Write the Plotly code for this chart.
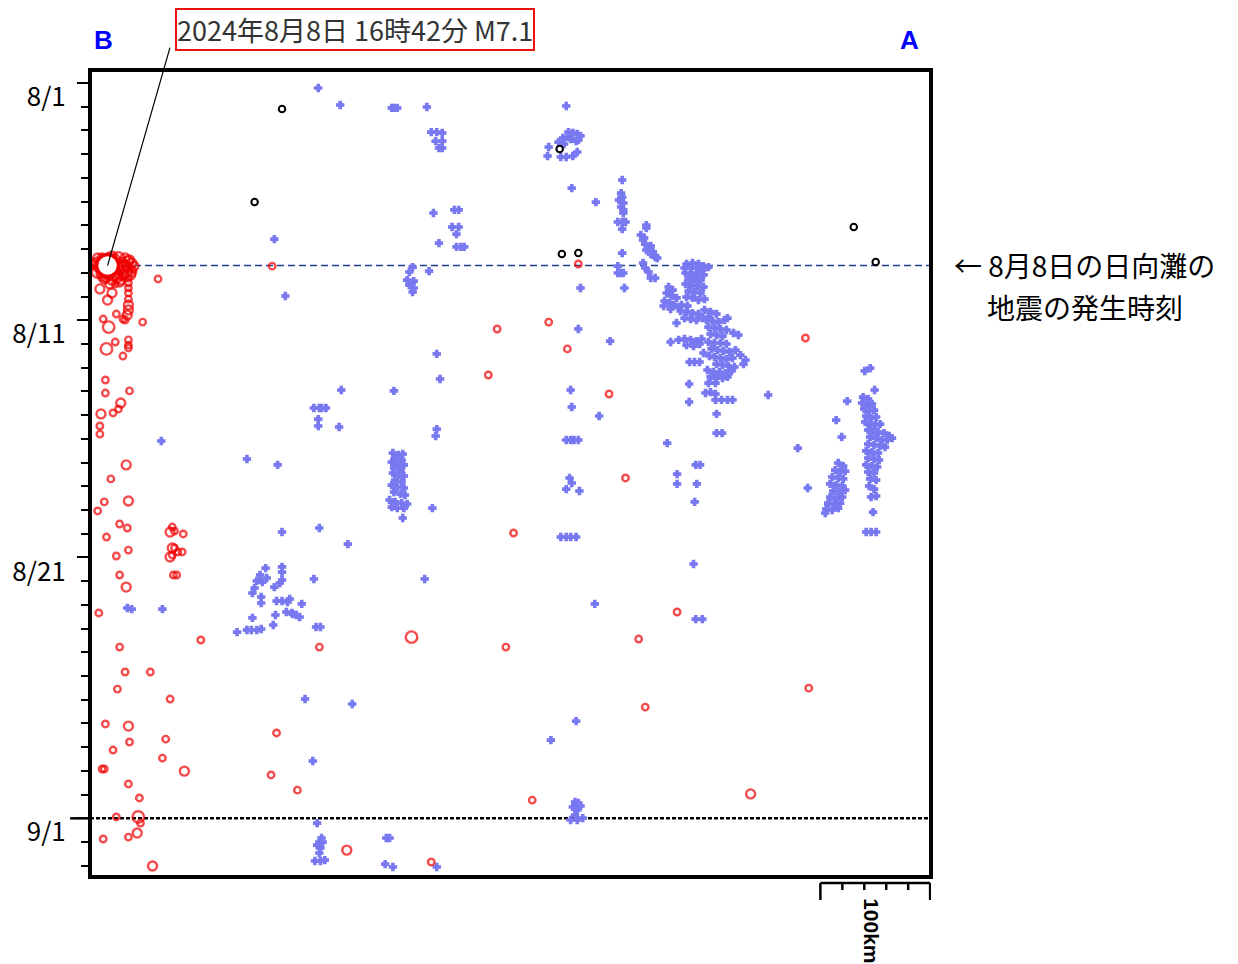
import plotly.graph_objects as go
import pandas as pd

BASE = pd.Timestamp("2024-08-01")

# ---- data: (distance from B [km], days since 2024-08-01 00:00, magnitude) ----
mainshock = dict(km=16, time="2024-08-08 16:42", mag=7.1,
                 label="2024年8月8日 16時42分 M7.1")

red_events = [
    (6, 7.55, 3.0), (9, 7.80, 3.0), (11, 7.38, 3.0), (14, 7.97, 3.5), (18, 8.05, 3.0),
    (22, 7.46, 3.5), (25, 7.72, 3.5), (27, 7.88, 3.0), (29, 7.55, 3.0), (33, 7.67, 3.0),
    (35, 7.80, 3.0), (38, 7.59, 3.0), (31, 8.09, 3.0), (25, 8.22, 3.0), (20, 8.31, 3.0),
    (15, 8.22, 3.0), (35, 8.22, 2.5), (39, 7.88, 2.5), (11, 8.14, 3.0), (23, 8.47, 2.5),
    (29, 8.18, 2.5), (35, 8.43, 2.5), (8, 7.72, 3.5),
    (7, 7.38, 3.0), (12, 7.59, 3.5), (16, 7.38, 3.0), (20, 7.29, 3.0), (26, 7.38, 3.5),
    (32, 7.38, 3.0), (36, 7.46, 3.0), (40, 7.72, 3.0), (7, 7.97, 3.5), (13, 8.26, 3.0),
    (18, 8.47, 3.0), (27, 8.39, 3.0), (33, 7.97, 3.5), (37, 8.09, 3.0), (22, 7.88, 3.5),
    (29, 7.80, 3.5), (4, 7.63, 3.0), (10, 8.01, 3.0), (24, 8.05, 3.5), (31, 7.72, 3.5),
    (38, 7.97, 3.0), (16, 8.05, 3.0), (28, 8.30, 3.0), (34, 7.55, 3.5), (19, 7.55, 3.5),
    (62, 8.26, 2.5), (166, 7.72, 2.5), (9, 8.68, 3.0), (20, 8.85, 3.0), (16, 9.15, 3.0),
    (35, 8.64, 2.5), (35, 8.85, 2.5), (35, 9.11, 2.5), (35, 9.36, 3.0), (35, 9.57, 3.0),
    (34, 9.78, 3.0), (32, 9.99, 2.5), (24, 9.74, 2.5), (12, 9.95, 2.5), (17, 10.29, 3.5),
    (30, 9.95, 2.5), (48, 10.08, 2.5), (35, 10.83, 2.5), (35, 11.05, 2.5), (35, 11.17, 2.5),
    (23, 10.92, 2.5), (15, 11.21, 3.5), (30, 11.51, 2.5), (371, 10.37, 2.5), (363, 12.31, 2.5),
    (14, 12.52, 2.5), (14, 13.07, 2.5), (36, 12.98, 2.5), (28, 13.49, 3.0), (26, 13.74, 2.5),
    (21, 13.91, 2.5), (10, 13.95, 3.0), (9, 14.46, 2.5), (9, 14.80, 2.5), (33, 16.10, 3.0),
    (445, 7.63, 2.5), (418, 10.08, 2.5), (435, 11.21, 2.5), (473, 13.11, 2.5), (652, 10.75, 2.5),
    (19, 16.69, 2.5), (13, 17.66, 2.5), (35, 17.62, 3.0), (7, 18.04, 2.5), (27, 18.59, 2.5),
    (34, 18.76, 2.5), (15, 19.14, 2.5), (24, 19.94, 2.5), (35, 19.69, 2.5), (27, 20.74, 2.5),
    (33, 21.25, 3.0), (8, 22.34, 2.5),
    (75, 18.72, 2.5), (73, 18.93, 3.0), (77, 18.89, 2.5), (85, 19.01, 2.5), (75, 19.60, 3.0),
    (77, 19.60, 2.5), (73, 19.98, 3.0), (75, 19.90, 2.5), (80, 19.77, 2.5), (84, 19.77, 2.5),
    (76, 20.74, 2.5), (79, 20.74, 2.5),
    (101, 23.48, 2.5), (27, 23.78, 2.5), (32, 24.83, 2.5), (55, 24.83, 2.5), (25, 25.55, 2.5),
    (73, 25.97, 2.5), (14, 27.02, 2.5), (35, 27.11, 3.0), (36, 27.78, 2.5), (69, 27.66, 2.5),
    (21, 28.12, 2.5), (66, 28.46, 2.5), (86, 29.01, 3.0), (11, 28.92, 2.5), (13, 28.92, 2.5),
    (35, 29.55, 2.5), (45, 30.14, 2.5), (24, 30.94, 2.5), (44, 30.94, 3.5), (46, 31.20, 2.5),
    (43, 31.62, 3.0), (35, 31.79, 2.5), (12, 31.87, 2.5), (57, 33.01, 3.0),
    (209, 23.78, 2.5), (293, 23.36, 3.5), (379, 23.78, 2.5), (170, 27.40, 2.5), (165, 29.17, 2.5),
    (189, 29.81, 2.5), (234, 32.34, 3.0), (311, 32.84, 2.5), (488, 16.65, 2.5), (386, 18.97, 2.5),
    (535, 22.30, 2.5), (500, 23.44, 2.5), (506, 26.31, 2.5), (655, 25.51, 2.5), (602, 29.97, 3.0),
    (403, 30.23, 2.5),
]

black_events = [
    (175, 1.10), (150, 5.02), (428, 2.78), (430, 7.21), (445, 7.17), (696, 6.07), (716, 7.55),
]

blue_events = [
    (208, 0.21), (228, 0.93), (275, 1.05), (277, 1.05), (280, 1.05), (307, 1.01),
    (311, 2.07), (316, 2.07), (321, 2.11), (315, 2.45), (321, 2.45), (318, 2.74), (321, 2.74),
    (313, 5.48), (332, 5.35), (336, 5.35), (330, 6.07), (336, 6.07), (334, 6.37), (318, 6.75),
    (334, 6.91), (338, 6.91), (341, 6.91), (168, 6.58), (294, 7.76), (291, 7.97), (309, 7.93),
    (289, 8.31), (293, 8.43), (295, 8.35), (291, 8.52), (295, 8.64), (294, 8.81), (178, 8.98),
    (316, 11.42), (319, 12.48), (229, 12.94), (277, 12.98),
    (204, 13.70), (209, 13.70), (211, 13.70), (215, 13.70), (208, 14.17), (208, 14.46),
    (227, 14.50), (316, 14.59), (315, 14.88), (65, 15.09), (143, 15.85), (171, 16.10),
    (276, 15.60), (281, 15.68), (285, 15.64), (278, 15.81), (284, 15.89), (275, 15.98),
    (280, 16.06), (286, 16.10), (277, 16.23), (283, 16.32), (276, 16.44), (281, 16.53),
    (286, 16.57), (278, 16.74), (284, 16.82), (275, 16.95), (280, 17.03), (286, 17.07),
    (277, 17.24), (283, 17.33), (287, 17.37), (273, 17.58), (278, 17.66), (284, 17.71),
    (289, 17.75), (275, 17.88), (280, 17.92), (286, 17.92), (285, 18.34),
    (312, 17.92), (175, 18.93), (209, 18.76), (235, 19.44), (204, 20.91), (305, 20.91),
    (160, 20.45), (175, 20.40), (175, 20.62), (155, 20.74), (152, 20.99), (161, 20.87),
    (157, 21.04), (150, 21.29), (148, 21.50), (175, 20.95), (173, 21.08), (168, 21.25),
    (156, 21.67), (156, 21.92), (170, 21.84), (175, 21.84), (182, 21.75), (180, 21.88),
    (193, 21.96), (179, 22.30), (184, 22.34), (188, 22.43), (191, 22.51), (185, 22.39),
    (169, 22.43), (148, 22.55), (167, 22.85), (134, 23.15), (143, 23.06), (147, 23.06),
    (152, 23.06), (156, 23.02), (206, 22.93), (210, 22.93),
    (34, 22.13), (38, 22.18), (66, 22.18), (196, 25.97), (239, 26.18), (203, 28.58),
    (207, 31.20), (209, 32.00), (212, 32.00), (207, 32.13), (210, 32.25), (209, 32.46),
    (205, 32.80), (210, 32.80), (214, 32.76), (211, 31.83),
    (270, 31.83), (273, 31.83), (269, 32.93), (276, 33.05), (316, 33.05),
    (434, 0.97), (436, 2.07), (440, 2.11), (444, 2.15), (447, 2.23), (431, 2.32), (435, 2.28),
    (438, 2.36), (445, 2.40), (427, 2.49), (432, 2.57), (443, 2.45), (418, 2.70), (417, 3.08),
    (429, 3.12), (434, 3.12), (440, 3.08), (444, 2.91), (439, 4.43), (461, 5.02), (485, 4.09),
    (484, 4.64), (485, 4.81), (482, 4.93), (486, 5.06), (484, 5.23), (486, 5.35), (486, 5.48),
    (481, 5.86), (485, 5.86), (488, 5.86), (485, 6.16), (485, 7.17), (481, 7.72),
    (481, 8.01), (484, 8.01), (486, 8.01), (487, 8.64), (507, 5.99), (507, 6.11),
    (502, 6.41), (505, 6.53), (504, 6.62), (506, 6.79), (511, 6.87), (509, 6.96), (513, 7.12),
    (515, 7.29), (515, 7.34), (517, 7.38), (507, 7.04), (511, 7.21), (504, 7.59), (506, 7.80),
    (509, 7.97), (511, 8.22), (515, 8.22),
    (447, 8.64), (445, 10.37), (474, 10.88), (438, 12.94), (439, 13.66), (464, 14.04),
    (434, 15.05), (438, 15.05), (441, 15.05), (445, 15.05), (645, 15.39), (680, 14.21),
    (685, 14.92), (690, 13.41), (706, 12.14), (711, 12.02), (715, 12.94), (618, 13.15),
    (546, 12.69), (546, 13.45), (571, 13.95), (571, 14.76), (576, 14.76), (526, 15.18),
    (552, 16.10), (556, 16.10), (535, 16.49), (535, 16.90), (553, 16.90), (551, 17.66),
    (437, 16.65), (439, 16.86), (434, 17.12), (446, 17.20),
    (429, 19.14), (434, 19.14), (438, 19.14), (443, 19.14), (550, 20.28), (460, 21.96),
    (552, 22.60), (558, 22.60), (443, 26.90), (420, 27.70),
    (442, 30.31), (445, 30.35), (440, 30.52), (444, 30.65), (447, 30.48), (442, 30.86),
    (438, 31.07), (444, 31.07), (449, 30.99), (654, 17.07),
    # main migrating swarm
    (543.6, 7.63), (549.1, 7.59), (554.5, 7.63), (559.1, 7.72), (541.8, 7.80), (547.3, 7.80),
    (552.7, 7.80), (558.2, 7.88), (563.6, 7.76), (542.7, 8.01), (548.2, 8.01), (553.6, 8.05),
    (559.1, 8.09), (545.5, 8.26), (550.9, 8.26), (556.4, 8.31), (542.7, 8.47), (548.2, 8.52),
    (553.6, 8.56), (559.1, 8.60), (545.5, 8.77), (550.9, 8.81), (556.4, 8.85), (543.6, 9.02),
    (549.1, 9.06), (554.5, 9.15), (560.0, 9.11),
    (527.3, 8.60), (530.9, 8.73), (525.5, 8.85), (530.0, 8.98), (534.5, 9.06), (523.6, 9.19),
    (528.2, 9.27), (532.7, 9.36), (536.4, 9.44), (529.1, 9.53), (522.7, 9.40),
    (539.1, 9.36), (544.5, 9.40), (538.2, 9.61), (543.6, 9.65), (549.1, 9.70), (554.5, 9.74),
    (541.8, 9.91), (547.3, 9.95), (552.7, 9.99), (558.2, 9.91), (563.6, 9.87), (534.5, 10.12),
    (560.0, 9.57), (565.5, 9.65), (570.9, 9.74), (561.8, 9.99), (567.3, 10.03), (572.7, 10.08),
    (578.2, 9.99), (580.9, 9.91), (563.6, 10.29), (569.1, 10.33), (574.5, 10.37), (580.0, 10.41),
    (565.5, 10.58), (570.9, 10.62), (576.4, 10.67), (586.4, 10.54), (590.9, 10.62),
    (536.4, 10.83), (541.8, 10.79), (547.3, 10.83), (552.7, 10.88), (557.3, 10.79),
    (543.6, 11.05), (550.0, 11.09), (555.5, 11.00), (529.1, 10.92),
    (563.6, 10.92), (569.1, 10.96), (574.5, 10.96), (580.0, 11.00), (566.4, 11.21),
    (571.8, 11.26), (577.3, 11.30), (582.7, 11.34), (588.2, 11.26), (569.1, 11.55),
    (574.5, 11.59), (580.0, 11.64), (585.5, 11.59), (592.7, 11.47), (597.3, 11.68),
    (570.9, 11.85), (576.4, 11.89), (581.8, 11.93), (587.3, 11.97), (595.5, 11.85),
    (559.1, 11.38), (564.5, 11.51), (546.4, 11.76), (550.9, 11.76), (555.5, 11.76),
    (562.7, 12.10), (568.2, 12.18), (573.6, 12.18), (579.1, 12.23), (584.5, 12.14),
    (565.5, 12.39), (570.9, 12.44), (576.4, 12.44), (580.9, 12.39), (563.6, 12.65),
    (570.0, 12.65), (560.9, 13.07), (565.5, 13.03), (570.0, 13.11),
    (570.0, 13.36), (575.5, 13.36), (580.9, 13.36), (585.5, 13.36),
    # eastern column
    (704.5, 13.24), (709.1, 13.32), (703.6, 13.49), (708.2, 13.58), (712.7, 13.53),
    (705.5, 13.74), (710.0, 13.83), (714.5, 13.79), (707.3, 14.04), (711.8, 14.12),
    (716.4, 14.08), (706.4, 14.29), (710.9, 14.38), (715.5, 14.42), (720.0, 14.38),
    (709.1, 14.63), (713.6, 14.67), (718.2, 14.71), (723.6, 14.76), (728.2, 14.88),
    (710.9, 14.92), (716.4, 14.97), (721.8, 15.05), (726.4, 15.05), (730.9, 14.97),
    (709.1, 15.22), (714.5, 15.26), (720.0, 15.30), (724.5, 15.35), (707.3, 15.51),
    (712.7, 15.56), (718.2, 15.60), (709.1, 15.81), (714.5, 15.85), (719.1, 15.89),
    (707.3, 16.10), (712.7, 16.15), (717.3, 16.19), (709.1, 16.40), (714.5, 16.44),
    (710.9, 16.69), (716.4, 16.74), (710.0, 16.99), (714.5, 17.12), (711.8, 17.45),
    (716.4, 17.41), (713.6, 18.09), (707.3, 18.93), (711.8, 18.93), (716.4, 18.93),
    (681.8, 16.02), (686.4, 16.15), (679.1, 16.32), (683.6, 16.40), (688.2, 16.36),
    (676.4, 16.61), (681.8, 16.65), (686.4, 16.69), (674.5, 16.90), (680.0, 16.95),
    (685.5, 16.99), (677.3, 17.20), (682.7, 17.24), (688.2, 17.16), (674.5, 17.45),
    (680.0, 17.50), (685.5, 17.45), (672.7, 17.71), (678.2, 17.75), (683.6, 17.71),
    (670.9, 17.96), (676.4, 18.00), (681.8, 17.92), (670.0, 18.13),
]

date_ticks = ["2024-08-01", "2024-08-11", "2024-08-21", "2024-09-01"]
date_labels = ["8/1", "8/11", "8/21", "9/1"]
x_range_km = [0, 766.4]
y_range = ["2024-09-03 11:20", "2024-07-31 10:50"]
scale_km = 100
note_lines = ["← 8月8日の日向灘の", "地震の発生時刻"]

# ---- helpers ----
def to_time(days):
    return [BASE + pd.Timedelta(days=d) for d in days]

def mag_size(m):
    return 6.5 + 5 * (m - 2.5)

JP = "Noto Sans CJK JP"
BLUE = "#7878f0"
RED = "#f00000"

fig = go.Figure()

bk, bd = zip(*blue_events)
fig.add_trace(go.Scatter(
    x=list(bk), y=to_time(bd), mode="markers",
    marker=dict(symbol="cross", size=6, color=BLUE, line=dict(width=1.2, color=BLUE)),
    hoverinfo="skip", showlegend=False))

kk, kd = zip(*black_events)
fig.add_trace(go.Scatter(
    x=list(kk), y=to_time(kd), mode="markers",
    marker=dict(symbol="circle", size=6.5, color="white", line=dict(width=2, color="black")),
    hoverinfo="skip", showlegend=False))

rk, rd, rm = zip(*red_events)
fig.add_trace(go.Scatter(
    x=list(rk), y=to_time(rd), mode="markers",
    marker=dict(symbol="circle-open", size=[mag_size(m) for m in rm], color=RED,
                line=dict(width=2.4, color=RED)),
    hoverinfo="skip", showlegend=False))

fig.add_trace(go.Scatter(
    x=[mainshock["km"]], y=[mainshock["time"]], mode="markers",
    marker=dict(symbol="circle", size=22, color="white", line=dict(width=3.5, color=RED)),
    hoverinfo="skip", showlegend=False))

# reference lines
fig.add_shape(type="line", xref="paper", yref="y", x0=0, x1=1,
              y0=mainshock["time"], y1=mainshock["time"],
              line=dict(color="#1f3f88", width=1.5, dash="7px,4px"), layer="below")
fig.add_shape(type="line", xref="paper", yref="y", x0=0, x1=1,
              y0=date_ticks[-1], y1=date_ticks[-1],
              line=dict(color="black", width=2.5, dash="4px,2px"), layer="below")
fig.add_shape(type="line", xref="paper", yref="y", x0=-0.0237, x1=0,
              y0=date_ticks[-1], y1=date_ticks[-1],
              line=dict(color="black", width=2.5))
# frame
fig.add_shape(type="rect", xref="paper", yref="paper", x0=0, x1=1, y0=0, y1=1,
              line=dict(color="black", width=4), layer="above")

# scale bar
sx0 = x_range_km[1] - scale_km - 0.8
yb, yt_long, yt_short = -0.0074, -0.0285, -0.0161
fig.add_shape(type="line", xref="x", yref="paper", x0=sx0, x1=sx0 + scale_km, y0=yb, y1=yb,
              line=dict(color="black", width=2.5))
for i in range(6):
    xv = sx0 + i * scale_km / 5
    fig.add_shape(type="line", xref="x", yref="paper", x0=xv, x1=xv, y0=yb,
                  y1=yt_long if i in (0, 5) else yt_short,
                  line=dict(color="black", width=2.5))

# annotations
def label(x, y, text, **kw):
    fig.add_annotation(xref="paper", yref="paper", x=x, y=y, text=text, showarrow=False,
                       xanchor="center", yanchor="middle", **kw)

label(0.930, -0.066, "<b>100km</b>", textangle=90,
      font=dict(family="Liberation Sans", size=21, color="black"))
label(0.0166, 1.037, "<b>B</b>", font=dict(family="Liberation Sans", size=26, color="#0000ff"))
label(0.975, 1.037, "<b>A</b>", font=dict(family="Liberation Sans", size=26, color="#0000ff"))
label(0.3155, 1.0502, mainshock["label"], font=dict(family=JP, size=27, color="#333333"),
      bordercolor="#ee1111", borderwidth=2, borderpad=0, bgcolor="white")
label(1.1827, 0.7584, note_lines[0], font=dict(family=JP, size=28, color="black"), borderpad=0)
label(1.1827, 0.7063, note_lines[1], font=dict(family=JP, size=28, color="black"), borderpad=0)
fig.add_annotation(x=mainshock["km"], y=mainshock["time"], text=" ", showarrow=True,
                   font=dict(size=1), arrowhead=0, arrowwidth=1.2, arrowcolor="black",
                   ax=63, ay=-220, standoff=0)

fig.update_xaxes(range=x_range_km, visible=False)
fig.update_yaxes(
    type="date", range=y_range, showgrid=False, zeroline=False, showline=False,
    tickmode="array", tickvals=date_ticks, ticktext=date_labels,
    ticks="outside", ticklen=12, tickwidth=2, tickcolor="black",
    minor=dict(ticks="outside", ticklen=8, tickwidth=2, tickcolor="black",
               dtick=86400000, tick0="2024-08-01", showgrid=False),
    tickfont=dict(family=JP, size=26, color="black"),
    ticklabelshift=-14, ticklabelstandoff=6,
)
fig.update_layout(
    width=1238, height=964, margin=dict(l=88, r=307, t=70, b=87),
    plot_bgcolor="white", paper_bgcolor="white", showlegend=False,
)
fig.write_html("out.html", config={"displayModeBar": False},
               post_script="document.body.style.margin='0';")
